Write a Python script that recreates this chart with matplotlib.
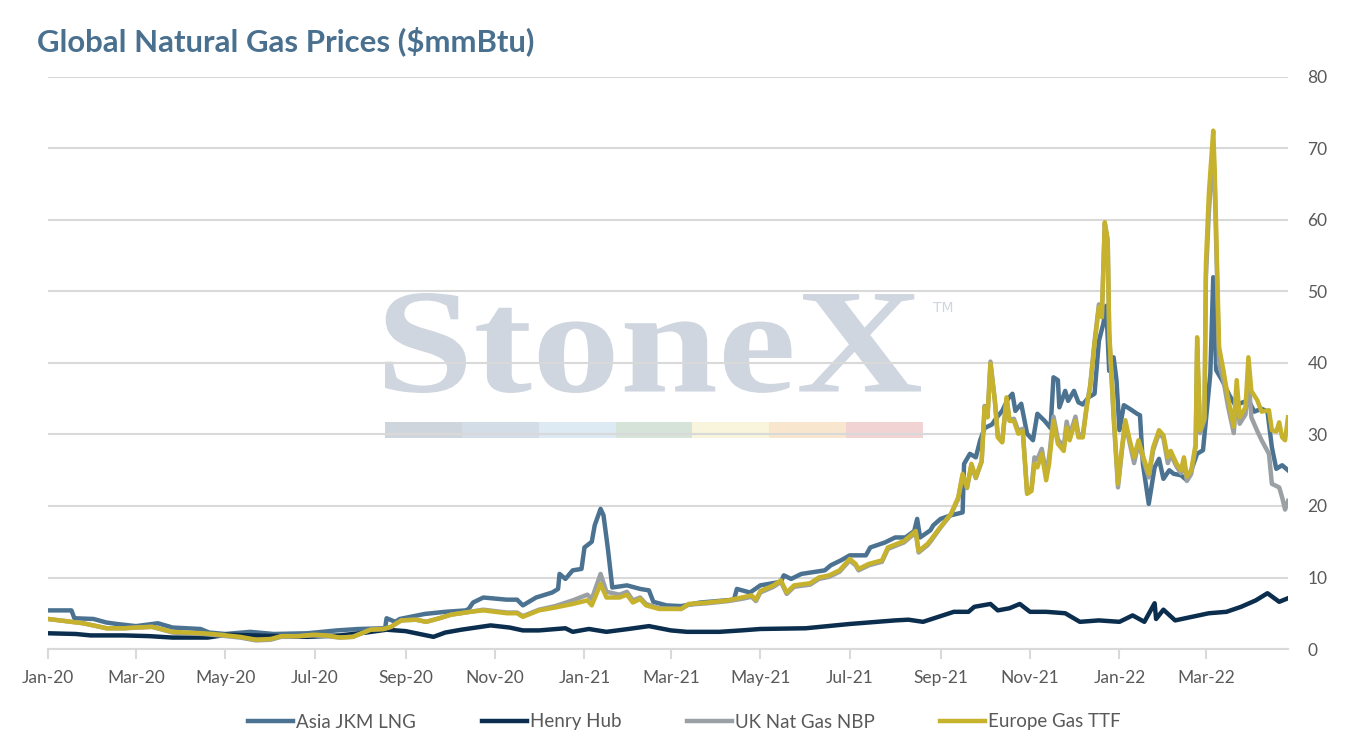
import matplotlib
matplotlib.use("Agg")
import matplotlib.pyplot as plt
import matplotlib.dates as mdates
import matplotlib.transforms as mtransforms
from matplotlib.textpath import TextPath
from matplotlib.patches import PathPatch, Rectangle
from matplotlib.font_manager import FontProperties
import pandas as pd

plt.rcParams['font.family'] = ['Lato', 'DejaVu Sans']

# ---- data ($/mmBtu) ----
jkm_dates = [
    "2020-01-01", "2020-01-17", "2020-01-19", "2020-02-01", "2020-02-10", "2020-02-17", "2020-03-01",
    "2020-03-16", "2020-03-26", "2020-04-14", "2020-04-20", "2020-05-01", "2020-05-18", "2020-06-03",
    "2020-06-26", "2020-07-16", "2020-07-31", "2020-08-18", "2020-08-19", "2020-08-25", "2020-08-28",
    "2020-09-14", "2020-09-28", "2020-10-12", "2020-10-14", "2020-10-17", "2020-10-24", "2020-11-09",
    "2020-11-16", "2020-11-20", "2020-11-29", "2020-12-10", "2020-12-14", "2020-12-15", "2020-12-19",
    "2020-12-24", "2020-12-30", "2021-01-01", "2021-01-06", "2021-01-08", "2021-01-12", "2021-01-14",
    "2021-01-17", "2021-01-20", "2021-01-30", "2021-02-08", "2021-02-14", "2021-02-17", "2021-02-26",
    "2021-03-08", "2021-03-21", "2021-04-13", "2021-04-15", "2021-04-24", "2021-05-01", "2021-05-15",
    "2021-05-17", "2021-05-22", "2021-05-29", "2021-06-14", "2021-06-18", "2021-06-25", "2021-07-01",
    "2021-07-12", "2021-07-15", "2021-07-25", "2021-08-01", "2021-08-08", "2021-08-14", "2021-08-16",
    "2021-08-18", "2021-08-25", "2021-08-27", "2021-09-01", "2021-09-08", "2021-09-16", "2021-09-17",
    "2021-09-21", "2021-09-25", "2021-09-28", "2021-10-01", "2021-10-06", "2021-10-09", "2021-10-13",
    "2021-10-17", "2021-10-20", "2021-10-22", "2021-10-26", "2021-10-30", "2021-11-03", "2021-11-06",
    "2021-11-11", "2021-11-15", "2021-11-17", "2021-11-20", "2021-11-21", "2021-11-25", "2021-11-27",
    "2021-12-01", "2021-12-04", "2021-12-07", "2021-12-11", "2021-12-15", "2021-12-18", "2021-12-21",
    "2021-12-23", "2021-12-25", "2021-12-28", "2021-12-30", "2022-01-01", "2022-01-04", "2022-01-08",
    "2022-01-13", "2022-01-15", "2022-01-17", "2022-01-21", "2022-01-25", "2022-01-28", "2022-01-31",
    "2022-02-04", "2022-02-07", "2022-02-12", "2022-02-16", "2022-02-19", "2022-02-23", "2022-02-27",
    "2022-03-01", "2022-03-04", "2022-03-06", "2022-03-07", "2022-03-08", "2022-03-12", "2022-03-17",
    "2022-03-21", "2022-03-25", "2022-03-30", "2022-04-03", "2022-04-08", "2022-04-12", "2022-04-15",
    "2022-04-18", "2022-04-22", "2022-04-26",
]
jkm_values = [
    5.4, 5.4, 4.3, 4.2, 3.7, 3.5, 3.2,
    3.6, 3.0, 2.8, 2.3, 2.1, 2.4, 2.1,
    2.2, 2.6, 2.8, 2.9, 4.3, 3.8, 4.2,
    4.9, 5.2, 5.4, 5.6, 6.5, 7.2, 6.9,
    6.9, 6.1, 7.2, 7.9, 8.4, 10.5, 9.8,
    11.0, 11.2, 14.2, 15.0, 17.3, 19.6, 18.7,
    14.0, 8.6, 8.9, 8.4, 8.2, 6.6, 6.1,
    6.0, 6.5, 6.9, 8.4, 7.9, 8.9, 9.4,
    10.3, 9.8, 10.5, 11.0, 11.7, 12.4, 13.1,
    13.1, 14.2, 14.9, 15.6, 15.6, 16.5, 18.2,
    15.6, 16.6, 17.3, 18.2, 18.7, 19.1, 25.9,
    27.3, 26.8, 29.2, 30.9, 31.4, 32.3, 33.3,
    35.0, 35.7, 33.3, 34.3, 30.1, 29.2, 32.9,
    31.9, 30.9, 38.0, 37.6, 33.8, 36.1, 34.7,
    36.1, 34.5, 34.2, 35.2, 35.7, 43.1, 45.5,
    48.0, 38.9, 40.8, 37.6, 30.6, 34.1, 33.6,
    32.9, 32.7, 25.9, 20.3, 25.4, 26.6, 23.8,
    25.0, 24.5, 24.3, 23.6, 25.0, 27.3, 27.8,
    32.0, 38.5, 52.0, 45.5, 39.0, 37.6, 35.5,
    34.1, 34.4, 34.8, 33.2, 33.6, 33.2, 28.2,
    25.2, 25.7, 25.0,
]

hh_dates = [
    "2020-01-01", "2020-01-20", "2020-01-30", "2020-02-22", "2020-03-10", "2020-03-26", "2020-04-19",
    "2020-05-02", "2020-05-20", "2020-06-08", "2020-06-26", "2020-07-18", "2020-08-05", "2020-08-19",
    "2020-09-01", "2020-09-20", "2020-09-28", "2020-10-09", "2020-10-29", "2020-11-11", "2020-11-20",
    "2020-12-01", "2020-12-19", "2020-12-24", "2021-01-04", "2021-01-16", "2021-01-31", "2021-02-14",
    "2021-03-01", "2021-03-12", "2021-04-03", "2021-04-18", "2021-05-01", "2021-06-01", "2021-07-01",
    "2021-08-01", "2021-08-10", "2021-08-20", "2021-09-01", "2021-09-10", "2021-09-20", "2021-09-24",
    "2021-10-05", "2021-10-10", "2021-10-18", "2021-10-25", "2021-11-01", "2021-11-12", "2021-11-25",
    "2021-12-05", "2021-12-18", "2022-01-01", "2022-01-10", "2022-01-18", "2022-01-25", "2022-01-26",
    "2022-01-31", "2022-02-08", "2022-03-03", "2022-03-15", "2022-03-25", "2022-04-04", "2022-04-12",
    "2022-04-20", "2022-04-26",
]
hh_values = [
    2.2, 2.1, 1.9, 1.9, 1.8, 1.6, 1.6,
    2.0, 1.9, 1.8, 1.7, 1.9, 2.3, 2.7,
    2.5, 1.7, 2.3, 2.7, 3.3, 3.0, 2.6,
    2.6, 2.9, 2.4, 2.8, 2.4, 2.8, 3.2,
    2.6, 2.4, 2.4, 2.6, 2.8, 2.9, 3.5,
    4.0, 4.1, 3.8, 4.6, 5.2, 5.2, 5.9,
    6.3, 5.4, 5.7, 6.3, 5.2, 5.2, 5.0,
    3.8, 4.0, 3.8, 4.7, 3.8, 6.4, 4.2,
    5.5, 4.0, 5.0, 5.2, 5.9, 6.8, 7.8,
    6.6, 7.1,
]

# TTF and NBP share the same sampling dates
ttf_dates = [
    "2020-01-01", "2020-01-09", "2020-01-25", "2020-02-10", "2020-02-22", "2020-03-01", "2020-03-12", "2020-03-26",
    "2020-04-04", "2020-04-16", "2020-04-27", "2020-05-11", "2020-05-22", "2020-06-01", "2020-06-08", "2020-06-20", "2020-06-30",
    "2020-07-09", "2020-07-18", "2020-07-27", "2020-08-08", "2020-08-17", "2020-08-22", "2020-08-29", "2020-09-08", "2020-09-15", "2020-09-24",
    "2020-10-02", "2020-10-15", "2020-10-24", "2020-11-09", "2020-11-16", "2020-11-20", "2020-12-01", "2020-12-12", "2020-12-24",
    "2021-01-03", "2021-01-06", "2021-01-12", "2021-01-16", "2021-01-25", "2021-01-30", "2021-02-03", "2021-02-08", "2021-02-12", "2021-02-21",
    "2021-03-08", "2021-03-13", "2021-03-26", "2021-04-09", "2021-04-18", "2021-04-25", "2021-04-28",
    "2021-05-01", "2021-05-10", "2021-05-15", "2021-05-19", "2021-05-24", "2021-06-04", "2021-06-10", "2021-06-17", "2021-06-24",
    "2021-07-01", "2021-07-05", "2021-07-07", "2021-07-14", "2021-07-23", "2021-07-27", "2021-08-07", "2021-08-15", "2021-08-17", "2021-08-23", "2021-08-25",
    "2021-09-01", "2021-09-08", "2021-09-13", "2021-09-16", "2021-09-19", "2021-09-22", "2021-09-25", "2021-09-29",
    "2021-10-01", "2021-10-03", "2021-10-05", "2021-10-08", "2021-10-10", "2021-10-13", "2021-10-16", "2021-10-18", "2021-10-21", "2021-10-24", "2021-10-27", "2021-10-30",
    "2021-11-02", "2021-11-04", "2021-11-06", "2021-11-09", "2021-11-12", "2021-11-14", "2021-11-17", "2021-11-20", "2021-11-24", "2021-11-26", "2021-11-28",
    "2021-12-02", "2021-12-04", "2021-12-07", "2021-12-10", "2021-12-12", "2021-12-15", "2021-12-18", "2021-12-20", "2021-12-22", "2021-12-24", "2021-12-25", "2021-12-28", "2021-12-31",
    "2022-01-03", "2022-01-05", "2022-01-08", "2022-01-11", "2022-01-14", "2022-01-18", "2022-01-21", "2022-01-24", "2022-01-28", "2022-01-31",
    "2022-02-03", "2022-02-05", "2022-02-09", "2022-02-12", "2022-02-14", "2022-02-16", "2022-02-19", "2022-02-22", "2022-02-23", "2022-02-25", "2022-02-28",
    "2022-03-01", "2022-03-03", "2022-03-06", "2022-03-07", "2022-03-10", "2022-03-13", "2022-03-16", "2022-03-20", "2022-03-22", "2022-03-24", "2022-03-28", "2022-03-30",
    "2022-04-01", "2022-04-05", "2022-04-08", "2022-04-13", "2022-04-15", "2022-04-18", "2022-04-20", "2022-04-22", "2022-04-24", "2022-04-26",
]
ttf_values = [
    4.2, 4.0, 3.6, 2.9, 2.9, 3.0, 3.1, 2.4,
    2.3, 2.2, 2.0, 1.7, 1.3, 1.4, 1.8, 1.8, 2.0,
    1.9, 1.6, 1.7, 2.7, 2.8, 3.1, 4.0, 4.1, 3.8, 4.3,
    4.8, 5.2, 5.4, 5.0, 5.0, 4.5, 5.4, 5.8, 6.3,
    6.8, 6.1, 9.1, 7.2, 7.2, 7.6, 6.5, 7.0, 6.1, 5.6,
    5.6, 6.3, 6.5, 6.8, 7.2, 7.5, 6.9,
    8.1, 8.9, 9.6, 7.9, 8.9, 9.2, 10.0, 10.3, 11.0,
    12.6, 11.9, 11.2, 11.9, 12.4, 14.2, 15.1, 16.5, 13.7, 14.7, 15.2,
    17.1, 18.9, 21.2, 24.5, 22.6, 25.9, 24.0, 26.3,
    33.8, 32.4, 39.9, 34.7, 29.6, 28.9, 35.2, 31.9, 31.9, 30.1, 30.5, 21.7,
    22.1, 25.9, 25.4, 27.3, 23.6, 25.9, 31.9, 28.7, 27.7, 31.0, 29.2,
    31.9, 29.6, 29.6, 34.3, 36.6, 42.7, 47.8, 46.4, 59.7, 57.2, 44.5, 33.0, 23.1,
    28.7, 32.0, 29.2, 26.8, 29.2, 26.4, 24.5, 28.2, 30.6, 29.9,
    26.8, 27.7, 25.9, 25.0, 26.8, 24.1, 25.0, 28.7, 43.6, 30.6, 32.4,
    53.9, 63.7, 72.5, 66.9, 42.2, 38.9, 35.2, 31.1, 37.6, 32.4, 33.8, 40.8,
    36.1, 34.8, 33.2, 33.4, 30.6, 30.4, 31.7, 29.6, 29.2, 32.4,
]
nbp_values = [
    4.2, 4.0, 3.6, 2.9, 2.9, 3.0, 3.1, 2.3,
    2.2, 2.1, 1.9, 1.6, 1.2, 1.3, 1.7, 1.8, 1.9,
    1.8, 1.6, 1.7, 2.7, 2.8, 3.1, 4.0, 4.1, 3.8, 4.3,
    4.8, 5.2, 5.5, 5.1, 5.1, 4.6, 5.5, 6.0, 6.8,
    7.6, 7.0, 10.5, 8.0, 7.6, 8.0, 6.8, 7.2, 6.3, 5.7,
    5.6, 6.2, 6.4, 6.7, 7.0, 7.3, 6.7,
    7.9, 8.7, 9.4, 7.7, 8.7, 9.0, 9.8, 10.1, 10.8,
    12.4, 11.7, 11.0, 11.7, 12.2, 14.0, 14.9, 16.3, 13.5, 14.5, 15.0,
    17.0, 18.8, 21.0, 24.3, 22.5, 25.7, 23.9, 26.2,
    34.0, 32.5, 40.2, 34.8, 29.8, 29.0, 35.0, 32.0, 32.2, 30.5, 30.8, 21.9,
    22.5, 26.8, 26.5, 28.0, 24.5, 26.8, 32.5, 29.3, 28.3, 31.8, 29.8,
    32.5, 30.0, 30.0, 34.5, 36.8, 43.0, 48.2, 46.6, 59.5, 57.0, 44.0, 32.5, 22.6,
    28.3, 31.5, 28.8, 26.0, 28.8, 26.0, 24.0, 27.8, 30.2, 29.5,
    26.0, 27.2, 25.5, 24.6, 26.4, 23.5, 24.5, 28.3, 42.0, 30.2, 32.0,
    52.0, 61.0, 70.0, 65.0, 39.9, 37.5, 34.0, 30.2, 36.0, 31.5, 32.8, 38.0,
    32.4, 30.5, 29.2, 27.3, 23.1, 22.8, 22.6, 21.2, 19.5, 20.7,
]

series_names = ["Asia JKM LNG", "Henry Hub", "UK Nat Gas NBP", "Europe Gas TTF"]
series_colors = ["#4b7391", "#0b2e4f", "#9aa0a3", "#c6b22d"]

fig = plt.figure(figsize=(13.5, 7.5), dpi=100)
ax = fig.add_axes([48 / 1350, 1 - 649 / 750, 1240 / 1350, 572 / 750])

# StoneX watermark behind the data
wm_col = "#cfd6df"
tp = TextPath((0, 0), "StoneX", size=100, prop=FontProperties(family="Liberation Serif", weight="bold"))
ext = tp.get_extents()
x0, x1 = 385 / 1350, 921 / 1350
y0, y1 = 1 - 393 / 750, 1 - 293 / 750
tr = mtransforms.Affine2D().translate(-ext.x0, -ext.y0).scale((x1 - x0) / ext.width, (y1 - y0) / ext.height).translate(x0, y0)
ax.add_patch(PathPatch(tp, transform=tr + fig.transFigure, facecolor=wm_col, edgecolor="none", zorder=0.1, clip_on=False))
fig.text(933 / 1350, 1 - 308 / 750, "TM", color=wm_col, fontsize=10, va="center", ha="left", family="DejaVu Sans")
bar_colors = ["#cfd5dc", "#d3dde8", "#dde9f3", "#d5e3d9", "#f8f5dc", "#f8e6cf", "#f1d3d4"]
seg_w = (923 - 385) / 1350 / len(bar_colors)
for i, c in enumerate(bar_colors):
    ax.add_patch(Rectangle((385 / 1350 + i * seg_w, 1 - 438 / 750), seg_w, 16 / 750,
                           transform=fig.transFigure, facecolor=c, edgecolor="none", zorder=0.1, clip_on=False))

all_dates = [jkm_dates, hh_dates, ttf_dates, ttf_dates]
all_values = [jkm_values, hh_values, nbp_values, ttf_values]
for d, v, name, col in zip(all_dates, all_values, series_names, series_colors):
    ax.plot(pd.to_datetime(d), v, color=col, lw=3.2, label=name, solid_joinstyle="round", zorder=2)

ax.set_xlim(pd.Timestamp("2020-01-01"), pd.Timestamp("2022-04-26"))
ax.set_ylim(0, 80)
ax.set_yticks(range(0, 81, 10))
ax.yaxis.tick_right()
ax.tick_params(axis="y", length=0, pad=14, labelsize=12.5, labelcolor="#595959")
ax.xaxis.set_major_locator(mdates.MonthLocator(bymonth=[1, 3, 5, 7, 9, 11]))
ax.xaxis.set_major_formatter(mdates.DateFormatter("%b-%y"))
ax.tick_params(axis="x", length=7, width=1.5, color="#d9d9d9", pad=8, labelsize=12.5, labelcolor="#595959")
ax.grid(axis="y", color="#d9d9d9", lw=1.5)
ax.set_axisbelow(True)
for s in ["top", "left", "right"]:
    ax.spines[s].set_visible(False)
ax.spines["bottom"].set_color("#d9d9d9")
ax.spines["bottom"].set_linewidth(1.5)
ax.patch.set_alpha(0)

fig.text(37 / 1350, 1 - 41 / 750, "Global Natural Gas Prices ($mmBtu)", fontsize=22.4, fontweight="bold",
         color="#4a7090", va="center", ha="left")

fig.legend(loc="center", bbox_to_anchor=(0.507, 1 - 722 / 750), ncol=4, frameon=False, fontsize=13.5,
           handlelength=2.4, handletextpad=0.15, columnspacing=3.5, labelcolor="#595959")

fig.savefig("out.png", dpi=100)
